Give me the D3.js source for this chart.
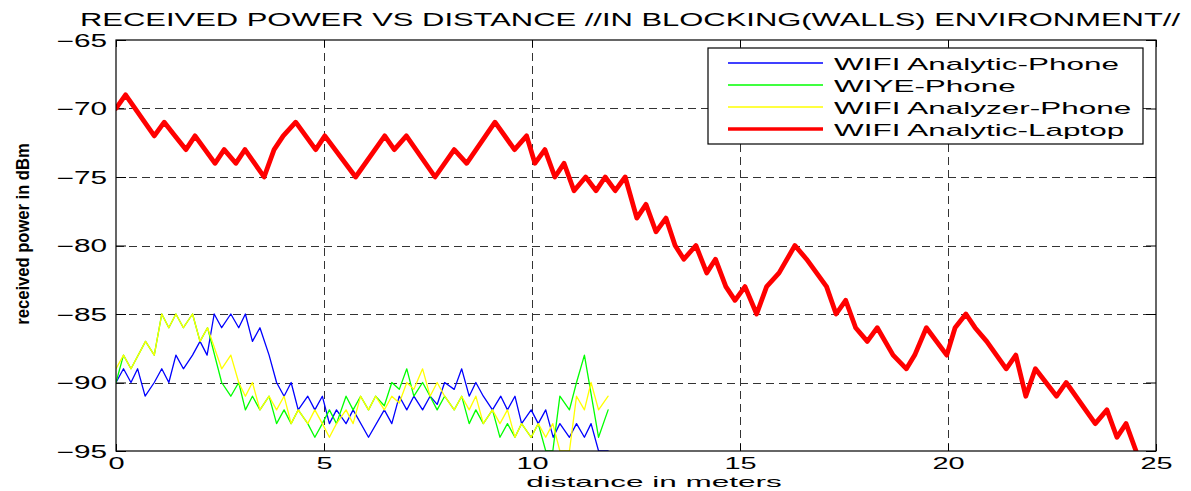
<!DOCTYPE html>
<html><head><meta charset="utf-8">
<script src="https://cdn.jsdelivr.net/npm/d3@7"></script>
<style>body{margin:0;background:#fff;} svg{display:block;font-family:"Liberation Sans",Arial,sans-serif;}</style>
</head><body><svg id="c" width="1191" height="491"></svg>
<script>
const titleText = "RECEIVED POWER VS DISTANCE //IN BLOCKING(WALLS) ENVIRONMENT//";
const xLabel = "distance in meters";
const yLabel = "received power in dBm";
const xTicks = [0, 5, 10, 15, 20, 25];
const yTicks = [-95, -90, -85, -80, -75, -70, -65];
const seriesNames = ["WIFI Analytic-Phone", "WIYE-Phone", "WIFI Analyzer-Phone", "WIFI Analytic-Laptop"];
const seriesColors = ["#0000ff", "#00ff00", "#ffff00", "#ff0000"];

const analyticPhone = [[0,-90],[0.18,-89],[0.36,-90],[0.52,-89],[0.70,-91],[0.92,-90],[1.10,-89],[1.27,-90],[1.44,-88],[1.62,-89],[1.84,-88],[2.02,-87],[2.19,-88],[2.36,-85],[2.54,-86],[2.76,-85],[2.95,-86],[3.11,-85],[3.28,-87],[3.46,-86],[3.68,-88],[3.86,-90],[4.04,-91],[4.21,-90],[4.38,-92],[4.61,-91],[4.78,-92],[4.96,-91],[5.13,-93],[5.30,-92],[5.53,-93],[5.70,-92],[6.07,-94],[6.45,-92],[6.63,-93],[6.81,-91],[6.99,-92],[7.16,-91],[7.37,-92],[7.55,-91],[7.72,-91.6],[7.90,-90],[8.13,-90.5],[8.31,-89],[8.49,-91],[8.65,-90],[8.83,-91],[9.05,-92],[9.25,-91],[9.41,-92],[9.59,-91],[9.75,-93],[9.98,-92],[10.15,-93],[10.33,-92],[10.51,-94],[10.67,-93],[10.90,-94],[11.07,-93],[11.26,-94],[11.42,-93],[11.60,-95],[11.83,-95]];

const wiyePhone = [[0,-90],[0.18,-88],[0.36,-89],[0.71,-87],[0.92,-88],[1.10,-85],[1.27,-86],[1.44,-85],[1.62,-86],[1.84,-85],[2.02,-87],[2.20,-86],[2.54,-90],[2.76,-91],[2.95,-90],[3.11,-92],[3.28,-91],[3.46,-92],[3.68,-91],[3.86,-93],[4.04,-92],[4.21,-93],[4.38,-92],[4.61,-93],[4.78,-94],[4.96,-93],[5.13,-92],[5.30,-93],[5.53,-91],[5.70,-92],[5.88,-91],[6.07,-92],[6.24,-91],[6.45,-91.7],[6.63,-90],[6.81,-90.5],[6.99,-89],[7.16,-91],[7.37,-90],[7.55,-91],[7.72,-92],[7.90,-91],[8.13,-92],[8.31,-91],[8.49,-93],[8.65,-92],[8.83,-93],[9.05,-92],[9.23,-94],[9.41,-93],[9.59,-94],[9.75,-93],[9.98,-94],[10.15,-93],[10.33,-95],[10.50,-95],[10.67,-91],[10.90,-92],[11.07,-90],[11.26,-88],[11.60,-94],[11.83,-92]];

const analyzerPhone = [[0,-89],[0.18,-88],[0.36,-89],[0.71,-87],[0.92,-88],[1.10,-85],[1.27,-86],[1.44,-85],[1.62,-86],[1.84,-85],[2.02,-87],[2.20,-86],[2.54,-89],[2.76,-88],[2.95,-90],[3.11,-91],[3.28,-90],[3.46,-92],[3.68,-91],[3.86,-92],[4.04,-91],[4.21,-93],[4.38,-92],[4.61,-93],[4.78,-92],[4.96,-93],[5.13,-94],[5.30,-93],[5.53,-92],[5.70,-93],[5.88,-91],[6.07,-92],[6.24,-91],[6.45,-92],[6.63,-91],[6.81,-91.5],[6.99,-90],[7.16,-90.5],[7.37,-89],[7.55,-91],[7.72,-90],[7.90,-91],[8.13,-92],[8.31,-91],[8.49,-92],[8.65,-91],[8.83,-93],[9.05,-92],[9.23,-93],[9.41,-92],[9.59,-94],[9.75,-93],[9.98,-94],[10.15,-93],[10.33,-94],[10.50,-93],[10.67,-95],[10.90,-95],[11.07,-91],[11.26,-92],[11.42,-90],[11.60,-92],[11.83,-91]];

const analyticLaptop = [[0,-70],[0.23,-69],[0.92,-72],[1.16,-71],[1.42,-72],[1.68,-73],[1.90,-72],[2.38,-74],[2.60,-73],[2.88,-74],[3.10,-73],[3.56,-75],[3.80,-73],[4.02,-72],[4.32,-71],[4.80,-73],[5.02,-72],[5.76,-75],[6.46,-72],[6.69,-73],[6.98,-72],[7.67,-75],[8.13,-73],[8.43,-74],[9.11,-71],[9.58,-73],[9.87,-72],[10.07,-74],[10.31,-73],[10.55,-75],[10.77,-74],[11.01,-76],[11.29,-75],[11.54,-76],[11.76,-75],[12.00,-76],[12.24,-75],[12.52,-78],[12.74,-77],[12.98,-79],[13.22,-78],[13.44,-80],[13.65,-81],[13.94,-80],[14.20,-82],[14.41,-81],[14.66,-83],[14.88,-84],[15.12,-83],[15.40,-85],[15.64,-83],[15.94,-82],[16.32,-80],[16.60,-81],[16.84,-82],[17.08,-83],[17.31,-85],[17.54,-84],[17.78,-86],[18.06,-87],[18.30,-86],[18.68,-88],[19.00,-89],[19.20,-88],[19.48,-86],[19.97,-88],[20.17,-86],[20.43,-85],[20.65,-86],[20.93,-87],[21.40,-89],[21.63,-88],[21.87,-91],[22.10,-89],[22.61,-91],[22.84,-90],[23.54,-93],[23.82,-92],[24.06,-94],[24.28,-93],[24.52,-95]];

const allSeries = [analyticPhone, wiyePhone, analyzerPhone, analyticLaptop];
const seriesWidths = [1.3, 1.3, 1.3, 4.8];

const W = 1191, H = 491;
const m = {l: 116, r: 35, t: 40, b: 40};
const svg = d3.select("#c");
const x = d3.scaleLinear().domain([0, 25]).range([m.l, W - m.r]);
const y = d3.scaleLinear().domain([-95, -65]).range([H - m.b, m.t]);

function stretch(sel, f) {
  sel.each(function() {
    const n = this.getComputedTextLength();
    d3.select(this).attr("textLength", n * f).attr("lengthAdjust", "spacingAndGlyphs");
  });
}

svg.append("rect").attr("width", W).attr("height", H).attr("fill", "#fff");

svg.append("defs").append("clipPath").attr("id", "clip").append("rect")
  .attr("x", x(0)).attr("y", y(-65)).attr("width", x(25) - x(0)).attr("height", y(-95) - y(-65));

// grid
const grid = svg.append("g").attr("stroke", "#333").attr("stroke-width", 1).attr("stroke-dasharray", "8,5");
grid.selectAll(".gx").data(xTicks.filter(d => d > 0 && d < 25)).enter().append("line")
  .attr("x1", d => Math.round(x(d)) + 0.5).attr("x2", d => Math.round(x(d)) + 0.5)
  .attr("y1", y(-65)).attr("y2", y(-95));
grid.selectAll(".gy").data(yTicks.filter(d => d > -95 && d < -65)).enter().append("line")
  .attr("y1", d => Math.round(y(d)) + 0.5).attr("y2", d => Math.round(y(d)) + 0.5)
  .attr("x1", x(0)).attr("x2", x(25));

// axes (MATLAB style, ticks inward on all sides)
const axB = d3.axisBottom(x).tickValues(xTicks).tickSize(-7).tickPadding(6).tickFormat(d3.format("d"));
const axT = d3.axisTop(x).tickValues(xTicks).tickSize(-7).tickFormat("");
const axL = d3.axisLeft(y).tickValues(yTicks).tickSize(-10).tickPadding(9).tickFormat(d3.format("d"));
const axR = d3.axisRight(y).tickValues(yTicks).tickSize(-10).tickFormat("");

function styleAxis(g) {
  g.select(".domain").remove();
  g.selectAll("line").attr("stroke", "#000");
  g.selectAll("text").attr("fill", "#000").attr("font-size", 17.5)
    .attr("font-family", "'Liberation Sans',Arial,sans-serif");
}
const gb = svg.append("g").attr("transform", `translate(0,${y(-95)})`).call(axB).call(styleAxis);
svg.append("g").attr("transform", `translate(0,${y(-65)})`).call(axT).call(styleAxis);
const gl = svg.append("g").attr("transform", `translate(${x(0)},0)`).call(axL).call(styleAxis);
svg.append("g").attr("transform", `translate(${x(25)},0)`).call(axR).call(styleAxis);
gb.selectAll("text").attr("font-size", 17).call(stretch, 1.7);
gl.selectAll("text").call(stretch, 1.7).attr("dy", "0.36em");

// series
const line = d3.line().x(d => x(d[0])).y(d => y(d[1]));
const plot = svg.append("g").attr("clip-path", "url(#clip)");
allSeries.forEach((s, i) => {
  plot.append("path").datum(s).attr("d", line).attr("fill", "none")
    .attr("stroke", seriesColors[i]).attr("stroke-width", seriesWidths[i])
    .attr("stroke-linejoin", "round").attr("stroke-linecap", "round");
});

// box
svg.append("rect").attr("x", x(0)).attr("y", y(-65)).attr("width", x(25) - x(0)).attr("height", y(-95) - y(-65))
  .attr("fill", "none").attr("stroke", "#000").attr("stroke-width", 1.2);

// legend
const lg = svg.append("g").attr("transform", "translate(708,48)");
lg.append("rect").attr("width", 435).attr("height", 96).attr("fill", "#fff").attr("stroke", "#000").attr("stroke-width", 1.2);
const rowY = [15, 37, 59, 81];
seriesNames.forEach((n, i) => {
  lg.append("line").attr("x1", 20).attr("x2", 115).attr("y1", rowY[i]).attr("y2", rowY[i])
    .attr("stroke", seriesColors[i]).attr("stroke-width", i === 3 ? 3.5 : 1.3);
  lg.append("text").attr("x", 126).attr("y", rowY[i] + 6.5).attr("font-size", 17).text(n).call(stretch, 1.85);
});

// title and labels
svg.append("text").attr("x", 80).attr("y", 26).attr("font-size", 18).text(titleText)
  .attr("textLength", 1100).attr("lengthAdjust", "spacingAndGlyphs");
svg.append("text").attr("x", (x(0) + x(25)) / 2 + 18).attr("y", 487).attr("text-anchor", "middle")
  .attr("font-size", 15).text(xLabel).call(stretch, 2.1);
svg.append("text").attr("transform", "translate(29,234) rotate(-90)").attr("text-anchor", "middle")
  .attr("font-size", 18).attr("font-weight", "bold").text(yLabel).call(stretch, 0.92);
</script></body></html>
